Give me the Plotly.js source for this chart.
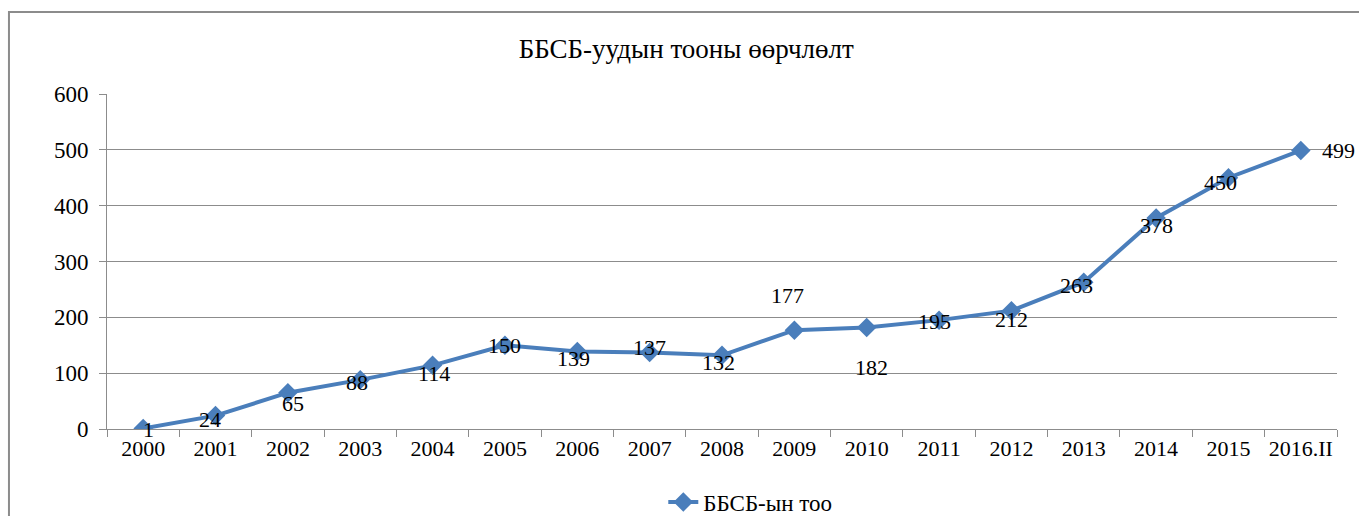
<!DOCTYPE html>
<html>
<head>
<meta charset="utf-8">
<script src="https://cdn.plot.ly/plotly-3.0.1.min.js"></script>
<style>
  html, body { margin: 0; padding: 0; background: #fff; }
  #chart { width: 1359px; height: 516px; }
</style>
</head>
<body>
<div id="chart"></div>
<script>
const categories = ["2000","2001","2002","2003","2004","2005","2006","2007","2008","2009","2010","2011","2012","2013","2014","2015","2016.II"];
const values = [1, 24, 65, 88, 114, 150, 139, 137, 132, 177, 182, 195, 212, 263, 378, 450, 499];
const seriesName = "ББСБ-ын тоо";
const chartTitle = "ББСБ-уудын тооны өөрчлөлт";
const yTicks = [0, 100, 200, 300, 400, 500, 600];

// label offsets (px) relative to each marker, as placed in the reference
const labelDx = [5, -6, 5, -3, 1, 0, -4, 0, -4, -7, 5, -5, 0, -7, 0, -8, 38];
const labelDy = [-1, -4, -11, -3, -8, 0, -7, 5, -7, 35, -40, -1, -9, -3, -8, -5, 0];

const font = "Liberation Serif, Times New Roman, serif";
const color = "#4a7ebb";
const idx = categories.map((c, i) => i);
const bounds = categories.concat([""]).map((c, i) => i - 0.5);

const trace = {
  type: "scatter",
  mode: "lines+markers",
  x: idx,
  y: values,
  text: categories,
  name: seriesName,
  line: { color: color, width: 4 },
  marker: { symbol: "diamond", size: 15, color: color },
  hoverinfo: "text+y"
};

const annotations = idx.map(i => ({
  x: i, y: values[i], xref: "x", yref: "y",
  text: String(values[i]), showarrow: false,
  xshift: labelDx[i], yshift: labelDy[i],
  font: { family: font, size: 22, color: "#000" }
}));

const layout = {
  width: 1359, height: 516,
  margin: { l: 107, r: 22, t: 94, b: 87, autoexpand: false },
  paper_bgcolor: "#fff", plot_bgcolor: "#fff",
  font: { family: font, size: 22, color: "#000" },
  title: { text: chartTitle, x: 0.505, xanchor: "center", y: 0.905, yanchor: "middle",
           font: { family: font, size: 27, color: "#000" } },
  xaxis: {
    type: "linear", range: [-0.5, categories.length - 0.5],
    tickmode: "array", tickvals: idx, ticktext: categories, tickangle: 0,
    showgrid: false, showline: true, linecolor: "#8c8c8c", linewidth: 1, zeroline: false,
    ticks: "", tickfont: { family: font, size: 22 }, fixedrange: true,
    minor: { tickmode: "array", tickvals: bounds, ticks: "outside", ticklen: 7, tickcolor: "#8c8c8c", showgrid: false }
  },
  yaxis: {
    range: [0, 600], tickmode: "array", tickvals: yTicks, showgrid: true, gridcolor: "#8c8c8c", gridwidth: 1,
    showline: true, linecolor: "#8c8c8c", linewidth: 1, zeroline: false,
    ticks: "outside", ticklen: 7, tickcolor: "#8c8c8c", ticklabelstandoff: 6,
    tickfont: { family: font, size: 23 }, fixedrange: true
  },
  showlegend: true,
  legend: { orientation: "h", x: 0.523, xanchor: "center", y: -0.218, yanchor: "middle",
            font: { family: font, size: 23 } },
  annotations: annotations,
  shapes: [{
    type: "rect", xref: "paper", yref: "paper",
    x0: -0.0797, x1: 1.2, y0: -0.5, y1: 1.2448,
    line: { color: "#8c8c8c", width: 2 }, fillcolor: "rgba(0,0,0,0)", layer: "below"
  }]
};

Plotly.newPlot("chart", [trace], layout, { displayModeBar: false, staticPlot: true });
</script>
</body>
</html>
